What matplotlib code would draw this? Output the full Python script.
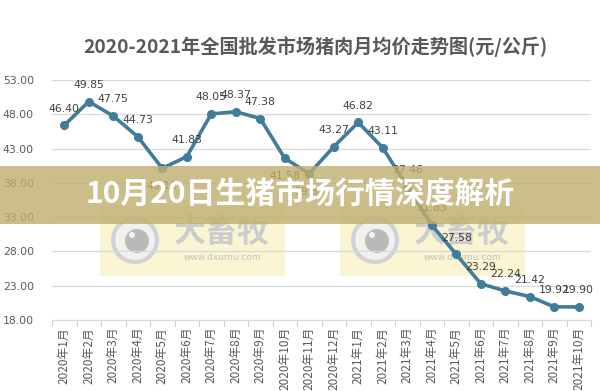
import matplotlib
matplotlib.use("Agg")
import matplotlib.pyplot as plt
from matplotlib.patches import Rectangle, Circle

plt.rcParams['font.family'] = ['Noto Sans CJK SC', 'DejaVu Sans']

# ---- data ----
months = ["2020年1月", "2020年2月", "2020年3月", "2020年4月", "2020年5月",
          "2020年6月", "2020年7月", "2020年8月", "2020年9月", "2020年10月",
          "2020年11月", "2020年12月", "2021年1月", "2021年2月", "2021年3月",
          "2021年4月", "2021年5月", "2021年6月", "2021年7月", "2021年8月",
          "2021年9月", "2021年10月"]
prices = [46.40, 49.85, 47.75, 44.73, 40.11, 41.83, 48.05, 48.37, 47.38, 41.58,
          39.33, 43.27, 46.82, 43.11, 37.46, 31.83, 27.58, 23.29, 22.24, 21.42,
          19.92, 19.90]
label_below = {4, 9, 10}
y_ticks = [18, 23, 28, 33, 38, 43, 48, 53]

title = "2020-2021年全国批发市场猪肉月均价走势图(元/公斤)"
banner = "10月20日生猪市场行情深度解析"

LINE = "#417d9b"
GRAY = "#595959"

fig = plt.figure(figsize=(6, 3.91), dpi=100)

# background layer: watermarks (pixel coords)
bg = fig.add_axes([0, 0, 1, 1], zorder=0)
bg.set_xlim(0, 600)
bg.set_ylim(391, 0)
bg.axis("off")
for x0 in (100, 340):
    bg.add_patch(Rectangle((x0, 206), 185, 70, facecolor="#f7f1c4", alpha=0.75,
                           edgecolor="none"))
    bg.add_patch(Circle((x0 + 35, 240), 22, facecolor="#f1f1ee", edgecolor="#d2d2d2",
                        lw=3))
    bg.add_patch(Circle((x0 + 37, 241), 12, facecolor="#b9b9b9", edgecolor="none"))
    bg.add_patch(Circle((x0 + 32, 235), 3, facecolor="#f4f4f4", edgecolor="none"))
    bg.text(x0 + 122, 233, "大畜牧", fontsize=23, fontweight="bold", color="#cccccc",
            ha="center", va="center")
    bg.text(x0 + 122, 257, "www.dxumu.com", fontsize=6.5, color="#c4c4c4",
            ha="center", va="center", family="DejaVu Sans")

# main chart
ax = fig.add_axes([52 / 600, 1 - 320 / 391, 539 / 600, 240 / 391], zorder=1)
ax.patch.set_alpha(0)
x = list(range(len(months)))
ax.plot(x, prices, color=LINE, lw=2.6, marker="o", ms=5.5, zorder=3)
for i, v in enumerate(prices):
    dy = -13 if i in label_below else 12
    ax.annotate(f"{v:.2f}", (i, v), xytext=(0, dy), textcoords="offset points",
                ha="center", va="center", fontsize=7.8, color="#404040",
                family="DejaVu Sans", zorder=4)

ax.set_ylim(18, 53)
ax.set_yticks(y_ticks)
ax.set_yticklabels([f"{t:.2f}" for t in y_ticks], fontsize=7.8, color=GRAY,
                   family="DejaVu Sans")
ax.yaxis.grid(True, color="#d9d9d9", lw=0.9)
ax.set_axisbelow(True)
ax.tick_params(axis="y", length=0, pad=13)

ax.set_xlim(-0.5, len(months) - 0.5)
ax.set_xticks(x)
ax.set_xticklabels(months, rotation=90, fontsize=8.5, color=GRAY)
ax.set_xticks([i - 0.5 for i in range(len(months) + 1)], minor=True)
ax.tick_params(axis="x", which="major", length=0, pad=5)
ax.tick_params(axis="x", which="minor", length=4, color="#cfcfcf", width=0.8)
for s in ("top", "right", "left"):
    ax.spines[s].set_visible(False)
ax.spines["bottom"].set_color("#d9d9d9")

# top layer: title, banner
ov = fig.add_axes([0, 0, 1, 1], zorder=3)
ov.set_xlim(0, 600)
ov.set_ylim(391, 0)
ov.axis("off")
ov.text(315, 47, title, fontsize=13.8, fontweight="bold", color=GRAY,
        ha="center", va="center")
ov.add_patch(Rectangle((0, 166), 600, 58, facecolor="#bfae6e", alpha=0.8,
                       edgecolor="none"))
ov.text(300, 195, banner, fontsize=21.5, fontweight="bold", color="white",
        ha="center", va="center")

fig.savefig("out.png", dpi=100)
